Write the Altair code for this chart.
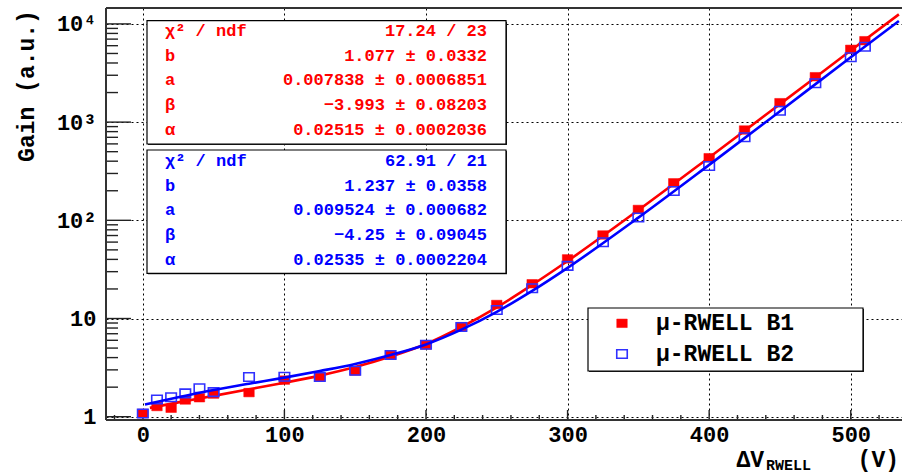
import altair as alt
import pandas as pd

# ---------------- data ----------------
V_POINTS = [0, 10, 20, 30, 40, 50, 75, 100, 125, 150, 175, 200, 225, 250,
            275, 300, 325, 350, 375, 400, 425, 450, 475, 500, 510]
GAIN_B1 = [1.08, 1.27, 1.22, 1.48, 1.56, 1.70, 1.76, 2.36, 2.55, 2.92, 4.25,
           5.37, 8.26, 13.9, 22.6, 40.5, 70.9, 129, 241, 434, 831, 1577,
           2900, 5510, 6745]
GAIN_B2 = [1.08, 1.50, 1.58, 1.73, 1.95, 1.78, 2.54, 2.55, 2.54, 2.94, 4.25,
           5.40, 8.20, 12.2, 20.3, 34.4, 59.7, 107, 199, 357, 700, 1306,
           2485, 4570, 5860]

CURVE_V_B1 = [5, 25, 50, 75, 100, 125, 150, 175, 200, 225, 250, 275, 300,
              350, 400, 450, 500, 534]
CURVE_G_B1 = [1.23, 1.40, 1.63, 1.90, 2.22, 2.62, 3.20, 4.10, 5.50, 8.20,
              13.0, 22.0, 38.5, 127, 437, 1525, 5350, 12500]
CURVE_V_B2 = [1.5, 25, 50, 75, 100, 125, 150, 175, 200, 225, 250, 275, 300,
              350, 400, 450, 500, 534]
CURVE_G_B2 = [1.33, 1.58, 1.87, 2.17, 2.50, 2.92, 3.45, 4.25, 5.45, 7.70,
              11.7, 19.1, 32.8, 106.5, 367, 1290, 4570, 10700]

X_MAJOR = [0, 100, 200, 300, 400, 500]
X_MINOR = [-20, 20, 40, 60, 80, 120, 140, 160, 180, 220, 240, 260, 280,
           320, 340, 360, 380, 420, 440, 460, 480, 520]
Y_MAJOR = [1, 10, 100, 1000, 10000]
Y_LABELS = ["1", "10", "10²", "10³", "10⁴"]
Y_MINOR = [2, 3, 4, 5, 6, 7, 8, 9, 20, 30, 40, 50, 60, 70, 80, 90,
           200, 300, 400, 500, 600, 700, 800, 900,
           2000, 3000, 4000, 5000, 6000, 7000, 8000, 9000]

STAT_NAMES = ["χ² / ndf", "b", "a", "β", "α"]
STAT_B1 = ["17.24 / 23", "1.077 ± 0.0332", "0.007838 ± 0.0006851",
           "−3.993 ± 0.08203", "0.02515 ± 0.0002036"]
STAT_B2 = ["62.91 / 21", "1.237 ± 0.0358", "0.009524 ± 0.000682",
           "−4.25 ± 0.09045", "0.02535 ± 0.0002204"]
LEGEND = ["μ-RWELL B1", "μ-RWELL B2"]

# ---------------- styling ----------------
FONT = "Liberation Mono"
RED = "#ff0000"
BLUE = "#0000ff"
W, H = 796, 412
SQUARE = "M-1.05,-0.85L1.05,-0.85L1.05,0.85L-1.05,0.85Z"

xs = alt.Scale(domain=[-26, 536.2], nice=False, zero=False)
ys = alt.Scale(type="log", domain=[0.926, 14520], nice=False)

label_expr = " : ".join(
    f"datum.value == {v} ? '{t}'" for v, t in zip(Y_MAJOR, Y_LABELS)) + " : ''"

x_axis = alt.Axis(values=X_MAJOR, grid=True, gridDash=[2, 3], gridColor="#000",
                  gridWidth=1, gridOpacity=1, ticks=False, tickSize=0, domain=False,
                  labelFont=FONT, labelFontWeight="bold", labelFontSize=22,
                  labelColor="#000", labelPadding=4, labelFlush=False,
                  labelOverlap=False, title=None)
y_axis = alt.Axis(values=Y_MAJOR, grid=True, gridDash=[2, 3], gridColor="#000",
                  gridWidth=1, gridOpacity=1, ticks=False, tickSize=0, domain=False,
                  labelFont=FONT, labelFontWeight="bold", labelFontSize=22,
                  labelColor="#000", labelPadding=10, labelFlush=False,
                  labelOverlap=False, labelExpr=label_expr, title=None)

X = alt.X("V:Q", scale=xs, axis=x_axis)
Y = alt.Y("G:Q", scale=ys, axis=y_axis)

dummy = pd.DataFrame({"d": [0]})

df_b1 = pd.DataFrame({"V": V_POINTS, "G": GAIN_B1})
df_b2 = pd.DataFrame({"V": V_POINTS, "G": GAIN_B2})
cv_b1 = pd.DataFrame({"V": CURVE_V_B1, "G": CURVE_G_B1})
cv_b2 = pd.DataFrame({"V": CURVE_V_B2, "G": CURVE_G_B2})

# ticks (ROOT style, inward)
ymaj = alt.Chart(pd.DataFrame({"G": Y_MAJOR})).mark_rule(color="#222", strokeWidth=1.4).encode(
    y=Y, x=alt.value(0), x2=alt.value(25))
ymin = alt.Chart(pd.DataFrame({"G": Y_MINOR})).mark_rule(color="#222", strokeWidth=1.4).encode(
    y=Y, x=alt.value(0), x2=alt.value(12))
xmaj = alt.Chart(pd.DataFrame({"V": X_MAJOR})).mark_rule(color="#222", strokeWidth=1.4).encode(
    x=X, y=alt.value(H), y2=alt.value(H - 10))
xmin = alt.Chart(pd.DataFrame({"V": X_MINOR})).mark_rule(color="#222", strokeWidth=1.4).encode(
    x=X, y=alt.value(H), y2=alt.value(H - 5))

pts_b1 = alt.Chart(df_b1).mark_point(shape=SQUARE, size=100, filled=True, fill=RED,
                                     stroke=RED, strokeWidth=0.5, opacity=1).encode(x=X, y=Y)
line_b1 = alt.Chart(cv_b1).mark_line(color=RED, strokeWidth=2.6, interpolate="monotone").encode(x=X, y=Y)
pts_b2 = alt.Chart(df_b2).mark_point(shape=SQUARE, size=100, filled=False, color="#3030ff",
                                     strokeWidth=1.6, opacity=1).encode(x=X, y=Y)
line_b2 = alt.Chart(cv_b2).mark_line(color=BLUE, strokeWidth=2.6, interpolate="monotone").encode(x=X, y=Y)


def box(x1, y1, x2, y2):
    shadow = alt.Chart(dummy).mark_rect(fill="#222", stroke=None).encode(
        x=alt.value(x1 + 1), x2=alt.value(x2 + 1), y=alt.value(y1 + 1), y2=alt.value(y2 + 1))
    main = alt.Chart(dummy).mark_rect(fill="#fff", stroke="#000", strokeWidth=1.2).encode(
        x=alt.value(x1), x2=alt.value(x2), y=alt.value(y1), y2=alt.value(y2))
    return [shadow, main]


def txt(s, x, y, color, size, align="left", angle=0):
    props = dict(text=s, font=FONT, fontWeight="bold", fontSize=size, color=color,
                 align=align, baseline="middle")
    if angle:
        props["angle"] = angle
    return alt.Chart(dummy).mark_text(**props).encode(x=alt.value(x), y=alt.value(y))


layers = [ymin, ymaj, xmin, xmaj, pts_b1, line_b1, pts_b2, line_b2]

# stat boxes
layers += box(41, 12.7, 400, 136)
rows1 = [23, 47.7, 72.4, 97.1, 121.8]
for name, val, ry in zip(STAT_NAMES, STAT_B1, rows1):
    layers.append(txt(name, 59, ry, RED, 17))
    layers.append(txt(val, 381, ry, RED, 17, align="right"))

layers += box(41, 142, 400, 265.3)
rows2 = [153, 177.7, 202.4, 227.1, 251.8]
for name, val, ry in zip(STAT_NAMES, STAT_B2, rows2):
    layers.append(txt(name, 59, ry, BLUE, 17))
    layers.append(txt(val, 381, ry, BLUE, 17, align="right"))

# legend
layers += box(482, 300, 757, 363)
layers.append(alt.Chart(dummy).mark_point(shape=SQUARE, size=100, filled=True, fill=RED,
                                          stroke=RED, strokeWidth=0.5, opacity=1).encode(
    x=alt.value(516), y=alt.value(315.3)))
layers.append(alt.Chart(dummy).mark_point(shape=SQUARE, size=100, filled=False, color="#3030ff",
                                          strokeWidth=1.6, opacity=1).encode(
    x=alt.value(516), y=alt.value(346)))
layers.append(txt(LEGEND[0], 550, 315.3, "#000", 23))
layers.append(txt(LEGEND[1], 550, 346, "#000", 23))

# frame (left, top, bottom)
frame_col = "#333"
layers.append(alt.Chart(dummy).mark_rule(color=frame_col, strokeWidth=2).encode(
    x=alt.value(0), y=alt.value(0), y2=alt.value(H)))
layers.append(alt.Chart(dummy).mark_rule(color=frame_col, strokeWidth=2).encode(
    x=alt.value(0), x2=alt.value(W + 2), y=alt.value(0)))
layers.append(alt.Chart(dummy).mark_rule(color=frame_col, strokeWidth=2).encode(
    x=alt.value(0), x2=alt.value(W + 2), y=alt.value(H)))

# axis titles
layers.append(txt("Gain (a.u.)", -79, 78, "#000", 23, align="center", angle=270))
layers.append(txt("ΔV", 658, 452, "#000", 23, align="right"))
layers.append(txt("RWELL", 660, 457, "#000", 15, align="left"))
layers.append(txt("(V)", 793, 452, "#000", 23, align="right"))

chart = alt.layer(*layers).properties(
    width=W, height=H,
    padding={"left": 106, "top": 8, "right": 0, "bottom": 54},
    autosize=alt.AutoSizeParams(type="none"),
    background="white",
).configure_view(strokeWidth=0)

chart.save("out.html", embed_options={"renderer": "svg", "actions": False})
